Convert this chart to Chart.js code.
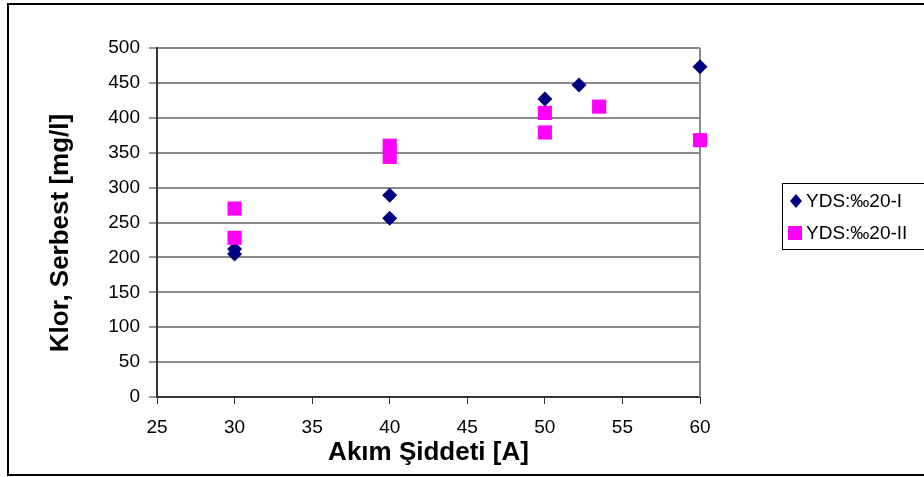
<!DOCTYPE html>
<html>
<head>
<meta charset="utf-8">
<script src="https://cdn.jsdelivr.net/npm/chart.js@4/dist/chart.umd.min.js"></script>
<style>
  html, body { margin: 0; padding: 0; background: #fff; }
  #wrap { width: 924px; height: 477px; }
</style>
</head>
<body>
<div id="wrap"><canvas id="klorChart" width="924" height="477"></canvas></div>
<script>
// Akım şiddetine göre serbest klor ölçümleri
const seriesNames = ['YDS:‰20-I', 'YDS:‰20-II'];
const akimI = [30, 30, 40, 40, 50, 52.2, 60];
const klorI = [205, 212, 289, 256, 427, 447, 473];
const akimII = [30, 30, 40, 40, 50, 50, 53.5, 60];
const klorII = [270, 228, 360, 344, 407, 379, 416, 368];
const xTicks = [25, 30, 35, 40, 45, 50, 55, 60];
const yTicks = [0, 50, 100, 150, 200, 250, 300, 350, 400, 450, 500];
const yTitle = 'Klor, Serbest [mg/l]';
const xTitle = 'Akım Şiddeti [A]';

const FONT = "'Liberation Sans', Arial, sans-serif";
const NAVY = '#000080';
const MAGENTA = '#ff00ff';

function toPoints(xs, ys) {
    return xs.map((x, i) => ({ x: x, y: ys[i] }));
}

// çerçeve, çizim alanı kenarı, y ekseni başlığı ve lejant
const framePlugin = {
    id: 'framePlugin',
    beforeDraw(chart) {
        const ctx = chart.ctx;
        ctx.save();
        ctx.fillStyle = '#fff';
        ctx.fillRect(0, 0, chart.width, chart.height);
        ctx.strokeStyle = '#000';
        ctx.lineWidth = 2;
        ctx.strokeRect(8, 4, chart.width + 10, 471);
        ctx.restore();
    },
    beforeDatasetsDraw(chart) {
        const ctx = chart.ctx;
        const a = chart.chartArea;
        ctx.save();
        ctx.strokeStyle = '#8a8a8a';
        ctx.lineWidth = 2;
        ctx.beginPath();
        ctx.moveTo(a.right, a.top);
        ctx.lineTo(a.right, a.bottom);
        ctx.stroke();
        ctx.restore();
    },
    afterDraw(chart) {
        const ctx = chart.ctx;
        ctx.save();

        // y ekseni başlığı
        ctx.save();
        ctx.translate(61, 233);
        ctx.rotate(-Math.PI / 2);
        ctx.font = 'bold 26px ' + FONT;
        ctx.textAlign = 'center';
        ctx.textBaseline = 'middle';
        ctx.fillStyle = '#000';
        ctx.fillText(yTitle, 0, 0);
        ctx.restore();

        ctx.fillStyle = '#fff';
        ctx.fillRect(782, 183, 160, 66);
        ctx.strokeStyle = '#000';
        ctx.lineWidth = 1;
        ctx.strokeRect(782.5, 183.5, 160, 66);

        ctx.font = '19px ' + FONT;
        ctx.textBaseline = 'middle';

        // elmas
        let y = 201;
        ctx.fillStyle = NAVY;
        ctx.beginPath();
        ctx.moveTo(796, y - 7);
        ctx.lineTo(802, y);
        ctx.lineTo(796, y + 7);
        ctx.lineTo(790, y);
        ctx.closePath();
        ctx.fill();
        ctx.fillStyle = '#000';
        ctx.fillText(seriesNames[0], 806, y + 1);

        // kare
        y = 233;
        ctx.fillStyle = MAGENTA;
        ctx.fillRect(788, y - 7, 14, 14);
        ctx.fillStyle = '#000';
        ctx.fillText(seriesNames[1], 806, y + 1);
        ctx.restore();
    }
};

const ctx = document.getElementById('klorChart').getContext('2d');
const klorChart = new Chart(ctx, {
    type: 'scatter',
    data: {
        datasets: [{
            label: seriesNames[0],
            data: toPoints(akimI, klorI),
            pointStyle: 'rectRot',
            pointRadius: 7.5,
            pointHoverRadius: 7.5,
            backgroundColor: NAVY,
            borderColor: NAVY,
            borderWidth: 0,
            clip: false,
            order: 1
        }, {
            label: seriesNames[1],
            data: toPoints(akimII, klorII),
            pointStyle: 'rect',
            pointRadius: 10,
            pointHoverRadius: 10,
            backgroundColor: MAGENTA,
            borderColor: MAGENTA,
            borderWidth: 0,
            clip: false,
            order: 0
        }]
    },
    options: {
        responsive: false,
        animation: false,
        layout: {
            padding: { top: 48, right: 224, bottom: 0, left: 0 }
        },
        plugins: {
            legend: { display: false },
            tooltip: { enabled: false }
        },
        scales: {
            x: {
                type: 'linear',
                min: 25,
                max: 60,
                afterBuildTicks: (scale) => {
                    scale.ticks = xTicks.map(v => ({ value: v }));
                },
                afterFit: (scale) => { scale.height = 80; },
                border: { color: '#333', width: 2 },
                grid: {
                    drawOnChartArea: false,
                    drawTicks: true,
                    tickLength: 7,
                    tickColor: '#333',
                    lineWidth: 1
                },
                ticks: {
                    color: '#000',
                    padding: 12,
                    maxRotation: 0,
                    font: { family: FONT, size: 19 }
                },
                title: {
                    display: true,
                    text: xTitle,
                    color: '#000',
                    padding: { top: 0, bottom: 9 },
                    font: { family: FONT, size: 26, weight: 'bold' }
                }
            },
            y: {
                min: 0,
                max: 500,
                afterBuildTicks: (scale) => {
                    scale.ticks = yTicks.map(v => ({ value: v }));
                },
                afterFit: (scale) => { scale.width = 157; },
                border: { color: '#333', width: 2 },
                grid: {
                    color: '#8a8a8a',
                    lineWidth: 2,
                    drawTicks: true,
                    tickLength: 8,
                    tickColor: '#333',
                    tickWidth: 1
                },
                ticks: {
                    color: '#000',
                    padding: 9,
                    font: { family: FONT, size: 19 }
                }
            }
        }
    },
    plugins: [framePlugin]
});
</script>
</body>
</html>
